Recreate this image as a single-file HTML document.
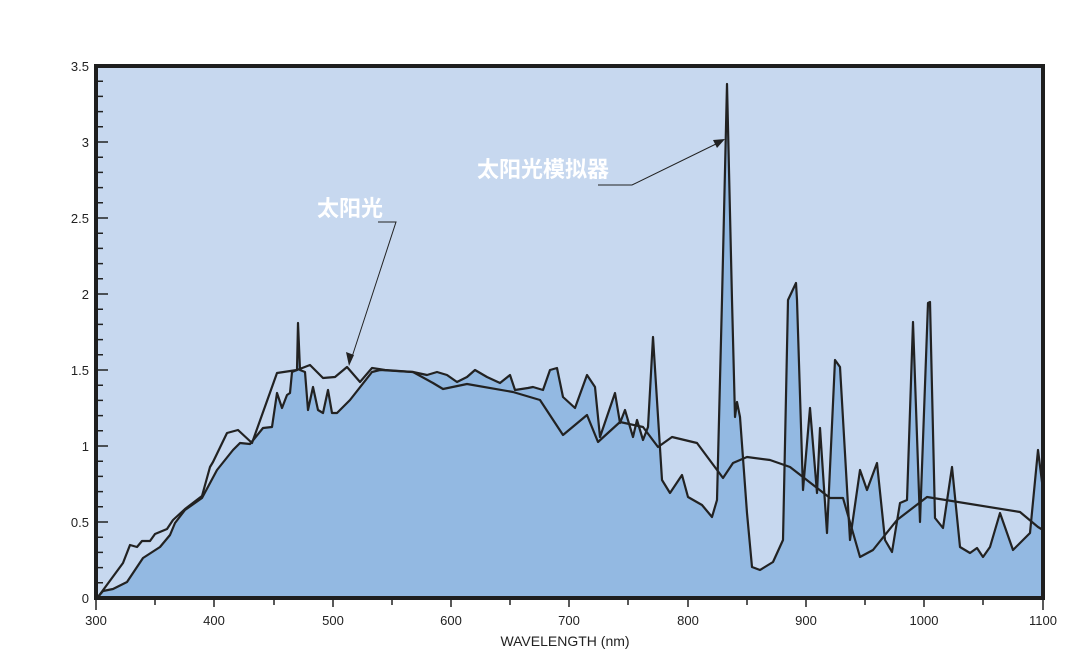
<!DOCTYPE html>
<html><head><meta charset="utf-8"><style>
html,body{margin:0;padding:0;background:#fff}
svg{display:block}
text{font-family:"Liberation Sans",sans-serif;fill:#222}
.cn{font-family:"Liberation Sans","Noto Sans CJK SC",sans-serif;fill:#fff;font-size:22px;font-weight:bold}
</style></head><body>
<svg width="1083" height="662" viewBox="0 0 1083 662">
<rect x="96" y="66" width="947" height="532" fill="#c7d8ef"/>
<path fill="#93b9e2" d="M97,598 L103,591 113,589 127,582 143,558 160,547 170,535 175,523 185,510 202,498 217,470 233,450 240,443 250,444 263,428 272,427 277,393 282,408 287,395 290,393 292,372 297,370 298,323 300,370 305,372 308,410 313,387 318,410 323,413 328,390 332,413 337,413 350,400 372,372 380,370 413,372 427,375 437,372 447,375 457,382 467,377 475,370 487,377 500,383 510,375 515,390 528,388 533,387 543,390 550,370 557,368 563,397 575,408 587,375 595,387 600,437 615,393 620,423 625,410 633,437 637,420 643,440 648,427 653,337 662,480 670,493 682,475 688,497 702,505 712,517 717,500 722,300 727,84 732,300 735,417 737,402 740,417 747,513 752,567 760,570 773,562 783,540 788,300 796,283 797,300 803,490 810,408 817,493 820,428 827,533 835,360 840,367 850,540 860,470 867,490 877,463 885,540 892,552 900,503 907,500 913,322 920,522 928,303 930,302 935,518 943,528 952,467 960,547 970,553 977,548 983,557 990,547 1000,513 1013,550 1030,533 1038,450 1043,490 L1043,598 Z"/>
<path fill="none" stroke="#222" stroke-width="2.2" stroke-linejoin="round" d="M97,598 L103,591 113,589 127,582 143,558 160,547 170,535 175,523 185,510 202,498 217,470 233,450 240,443 250,444 263,428 272,427 277,393 282,408 287,395 290,393 292,372 297,370 298,323 300,370 305,372 308,410 313,387 318,410 323,413 328,390 332,413 337,413 350,400 372,372 380,370 413,372 427,375 437,372 447,375 457,382 467,377 475,370 487,377 500,383 510,375 515,390 528,388 533,387 543,390 550,370 557,368 563,397 575,408 587,375 595,387 600,437 615,393 620,423 625,410 633,437 637,420 643,440 648,427 653,337 662,480 670,493 682,475 688,497 702,505 712,517 717,500 722,300 727,84 732,300 735,417 737,402 740,417 747,513 752,567 760,570 773,562 783,540 788,300 796,283 797,300 803,490 810,408 817,493 820,428 827,533 835,360 840,367 850,540 860,470 867,490 877,463 885,540 892,552 900,503 907,500 913,322 920,522 928,303 930,302 935,518 943,528 952,467 960,547 970,553 977,548 983,557 990,547 1000,513 1013,550 1030,533 1038,450 1043,490"/>
<path fill="none" stroke="#222" stroke-width="2.2" stroke-linejoin="round" d="M98,597 L123,563 130,545 137,547 142,541 150,541 155,534 167,529 173,520 185,509 202,496 210,467 213,462 227,433 238,430 252,443 277,373 297,370 310,365 323,378 335,377 347,367 360,382 372,368 385,370 413,372 433,383 443,389 467,384 513,392 540,400 563,435 587,415 598,442 620,422 643,427 658,447 672,437 697,443 723,478 733,463 747,457 770,460 790,467 830,498 843,498 860,557 873,550 897,520 927,497 1020,512 1038,527 1043,530"/>
<rect x="96" y="66" width="947" height="532" fill="none" stroke="#1e1e1e" stroke-width="4"/>
<g stroke="#222" stroke-width="1.5">
<path d="M98,582.8h5M98,567.6h5M98,552.4h5M98,537.2h5M98,506.8h5M98,491.6h5M98,476.4h5M98,461.2h5M98,430.8h5M98,415.6h5M98,400.4h5M98,385.2h5M98,354.8h5M98,339.6h5M98,324.4h5M98,309.2h5M98,278.8h5M98,263.6h5M98,248.4h5M98,233.2h5M98,202.8h5M98,187.6h5M98,172.4h5M98,157.2h5M98,126.8h5M98,111.6h5M98,96.4h5M98,81.2h5"/>
<path d="M98,522h10M98,446h10M98,370h10M98,294h10M98,218h10M98,142h10"/>
<path d="M96,600v10M155,600v5M214,600v7M274,600v5M333,600v7M392,600v5M451,600v7M510,600v5M569,600v7M628,600v5M688,600v7M747,600v5M806,600v7M865,600v5M924,600v7M983,600v5M1043,600v10"/>
</g>
<g font-size="13" text-anchor="end">
<text x="89" y="603">0</text><text x="89" y="527">0.5</text><text x="89" y="451">1</text><text x="89" y="375">1.5</text><text x="89" y="299">2</text><text x="89" y="223">2.5</text><text x="89" y="147">3</text><text x="89" y="71">3.5</text>
</g>
<g font-size="13" text-anchor="middle">
<text x="96" y="625">300</text><text x="214" y="625">400</text><text x="333" y="625">500</text><text x="451" y="625">600</text><text x="569" y="625">700</text><text x="688" y="625">800</text><text x="806" y="625">900</text><text x="924" y="625">1000</text><text x="1043" y="625">1100</text>
<text x="565" y="646" font-size="14">WAVELENGTH (nm)</text>
</g>
<text class="cn" x="317" y="216">太阳光</text>
<path d="M378,222H396L351,360" fill="none" stroke="#222" stroke-width="1"/>
<path d="M349,366 L346,352 L354,355 Z" fill="#222"/>
<text class="cn" x="477" y="177">太阳光模拟器</text>
<path d="M598,185H632L718,143" fill="none" stroke="#222" stroke-width="1"/>
<path d="M725,139 L713,140 L717,148 Z" fill="#222"/>
</svg>
</body></html>
